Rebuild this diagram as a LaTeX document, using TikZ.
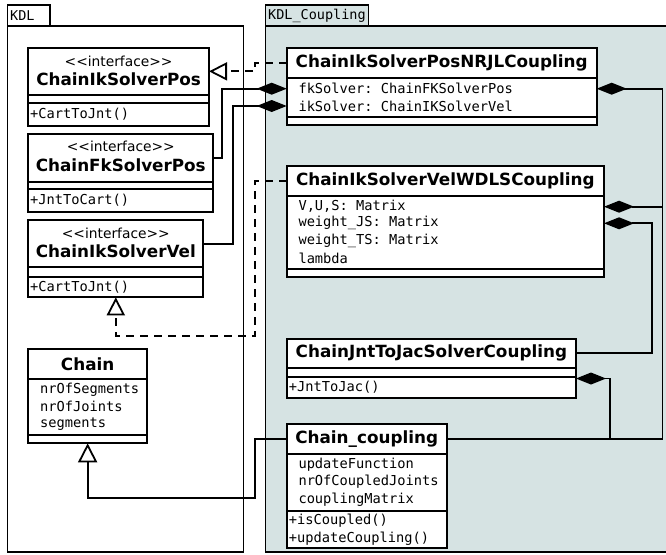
\documentclass[tikz,border=0pt]{standalone}
\usepackage{fontspec}
\setmainfont{DejaVu Sans}
\setmonofont{DejaVu Sans Mono}
\usetikzlibrary{arrows.meta}
\definecolor{pkgfill}{RGB}{214,227,227}
\tikzset{
  pkgbox/.style={draw=black, line width=1.5pt, inner sep=0pt, outer sep=0pt, anchor=north west},
  pkglabel/.style={font=\fontsize{13.5}{15}\selectfont\ttfamily, inner sep=0pt, anchor=west},
  part/.style={draw=black, fill=white, line width=1.8pt, inner sep=0pt, outer sep=0pt, anchor=north west},
  title/.style={font=\fontsize{16.8}{19}\selectfont\bfseries},
  stereo/.style={font=\fontsize{13.8}{15}\selectfont, inner sep=0pt},
  ttext/.style={title, inner sep=0pt},
  member/.style={font=\fontsize{13.7}{15}\selectfont\ttfamily, inner sep=0pt, anchor=west},
  realize/.style={line width=1.8pt, dash pattern=on 8pt off 6pt,
    -{Triangle[open, length=18pt, width=18pt]}},
  inherit/.style={line width=1.8pt, -{Triangle[open, length=19pt, width=19pt]}},
  compose/.style={line width=1.8pt, {Diamond[length=30pt, width=12pt]}-},
}
\begin{document}
\begin{tikzpicture}[x=1pt, y=-1pt]
\useasboundingbox (0,0) rectangle (666,554);

% packages
\node[pkgbox, minimum width=42.5pt, minimum height=21pt] (kdltab) at (7.5,5) {};
\node[pkgbox, minimum width=236pt, minimum height=526pt] (kdl) at (7.5,26) {};
\node[pkglabel] (kdl-l) at (10,15.5) {KDL};
\node[pkgbox, fill=pkgfill, minimum width=103.4pt, minimum height=21pt] (cpltab) at (265.3,5) {};
\node[pkgbox, fill=pkgfill, minimum width=410pt, minimum height=526pt] (cpl) at (265.3,26) {};
\node[pkglabel] (cpl-l) at (268,15.5) {KDL\_Coupling};

% ChainIkSolverPos
\node[part, minimum width=180.7pt, minimum height=47.3pt] (ikpos) at (28.3,47.7) {};
\node[part, minimum width=180.7pt, minimum height=8.3pt] (ikpos-a) at (28.3,95) {};
\node[part, minimum width=180.7pt, minimum height=22.4pt] (ikpos-m) at (28.3,103.3) {};
\node[stereo] (ikpos-s) at (118.6,61) {<{}<interface>{}>};
\node[ttext] (ikpos-t) at (118.6,79.3) {ChainIkSolverPos};
\node[member] (ikpos-m1) at (30,114.5) {+CartToJnt()};

% ChainFkSolverPos
\node[part, minimum width=185pt, minimum height=47.7pt] (fkpos) at (28.3,134) {};
\node[part, minimum width=185pt, minimum height=7.3pt] (fkpos-a) at (28.3,181.7) {};
\node[part, minimum width=185pt, minimum height=22.7pt] (fkpos-m) at (28.3,189) {};
\node[stereo] (fkpos-s) at (120.8,146.5) {<{}<interface>{}>};
\node[ttext] (fkpos-t) at (120.8,165.5) {ChainFkSolverPos};
\node[member] (fkpos-m1) at (30,200.3) {+JntToCart()};

% ChainIkSolverVel
\node[part, minimum width=175pt, minimum height=47.3pt] (ikvel) at (28.3,220) {};
\node[part, minimum width=175pt, minimum height=9.4pt] (ikvel-a) at (28.3,267.3) {};
\node[part, minimum width=175pt, minimum height=20.6pt] (ikvel-m) at (28.3,276.7) {};
\node[stereo] (ikvel-s) at (115.8,233) {<{}<interface>{}>};
\node[ttext] (ikvel-t) at (115.8,251.7) {ChainIkSolverVel};
\node[member] (ikvel-m1) at (30,287) {+CartToJnt()};

% Chain
\node[part, title, minimum width=118.7pt, minimum height=30pt] (chain) at (28.3,349) {Chain};
\node[part, minimum width=118.7pt, minimum height=56pt] (chain-a) at (28.3,379) {};
\node[part, minimum width=118.7pt, minimum height=8.3pt] (chain-m) at (28.3,435) {};
\node[member] (chain-a1) at (40,389.3) {nrOfSegments};
\node[member] (chain-a2) at (40,406.7) {nrOfJoints};
\node[member] (chain-a3) at (40,424.3) {segments};

% ChainIkSolverPosNRJLCoupling
\node[part, title, minimum width=310pt, minimum height=30.6pt] (nrjl) at (286.7,47.7) {ChainIkSolverPosNRJLCoupling};
\node[part, minimum width=310pt, minimum height=39pt] (nrjl-a) at (286.7,78.3) {};
\node[part, minimum width=310pt, minimum height=7.7pt] (nrjl-m) at (286.7,117.3) {};
\node[member] (nrjl-fk) at (298.3,88.7) {fkSolver: ChainFKSolverPos};
\node[member] (nrjl-ik) at (298.3,106) {ikSolver: ChainIKSolverVel};

% ChainIkSolverVelWDLSCoupling
\node[part, title, minimum width=317.3pt, minimum height=30pt] (wdls) at (286.7,166) {ChainIkSolverVelWDLSCoupling};
\node[part, minimum width=317.3pt, minimum height=73.3pt] (wdls-a) at (286.7,196) {};
\node[part, minimum width=317.3pt, minimum height=8pt] (wdls-m) at (286.7,269.3) {};
\node[member] (wdls-vus) at (298.3,206.7) {V,U,S: Matrix};
\node[member] (wdls-wjs) at (298.3,223.3) {weight\_JS: Matrix};
\node[member] (wdls-wts) at (298.3,241) {weight\_TS: Matrix};
\node[member] (wdls-lam) at (298.3,258.3) {lambda};

% ChainJntToJacSolverCoupling
\node[part, title, minimum width=289.3pt, minimum height=28.7pt] (jac) at (286.7,339) {ChainJntToJacSolverCoupling};
\node[part, minimum width=289.3pt, minimum height=9pt] (jac-a) at (286.7,367.7) {};
\node[part, minimum width=289.3pt, minimum height=21.6pt] (jac-m) at (286.7,376.7) {};
\node[member] (jac-m1) at (288.7,387.5) {+JntToJac()};

% Chain_coupling
\node[part, title, minimum width=160pt, minimum height=30pt] (cc) at (286.7,424.3) {Chain\_coupling};
\node[part, minimum width=160pt, minimum height=56.7pt] (cc-a) at (286.7,454.3) {};
\node[part, minimum width=160pt, minimum height=37.3pt] (cc-m) at (286.7,511) {};
\node[member] (cc-a1) at (298.3,465) {updateFunction};
\node[member] (cc-a2) at (298.3,481.7) {nrOfCoupledJoints};
\node[member] (cc-a3) at (298.3,499.3) {couplingMatrix};
\node[member] (cc-m1) at (288.7,521) {+isCoupled()};
\node[member] (cc-m2) at (288.7,538.3) {+updateCoupling()};

% routing columns and bends
\coordinate (dashx) at (255,0);
\coordinate (dashlow) at (255,336);
\coordinate (fkx) at (222,0);
\coordinate (ikx) at (233.3,0);
\coordinate (rx) at (662.5,0);
\coordinate (jx) at (652.3,0);
\coordinate (jacbend) at (610,378.5);
\coordinate (inhbend) at (255,498);

% realizations
\draw[realize] (nrjl.west) -- (nrjl.west -| dashx) |- (ikpos.east);
\draw[realize] (wdls.west) -| (dashlow) -| (ikvel-m.south);

% compositions
\draw[compose] (nrjl-a.west |- nrjl-fk) -- (nrjl-fk -| fkx) |- (fkpos.east);
\draw[compose] (nrjl-a.west |- nrjl-ik) -- (nrjl-ik -| ikx) |- (ikvel.east);
\draw[compose] (nrjl-a.east |- nrjl-fk) -- (nrjl-fk -| rx) |- (cc.east);
\draw[compose] (wdls-a.east |- wdls-vus) -- (wdls-vus -| rx);
\draw[compose] (wdls-a.east |- wdls-wjs) -- (wdls-wjs -| jx) |- (jac.east);
\draw[compose] (jac-m.east |- jacbend) -- (jacbend) |- (cc.east);

% generalization
\draw[inherit] (cc.west) -| (inhbend) -| (chain-m.south);
\end{tikzpicture}
\end{document}
